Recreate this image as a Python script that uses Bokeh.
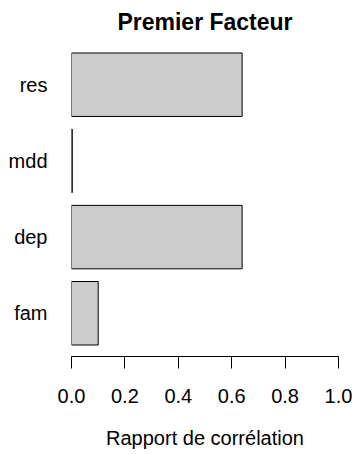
from bokeh.plotting import figure
from bokeh.models import ColumnDataSource, FactorRange, Range1d, FixedTicker
from bokeh.embed import file_html
from bokeh.resources import INLINE

# ---- data (bottom to top, as drawn) ----
categories = ["fam", "dep", "mdd", "res"]
values = [0.10, 0.639, 0.003, 0.639]
x_ticks = [0.0, 0.2, 0.4, 0.6, 0.8, 1.0]
x_tick_labels = ["0.0", "0.2", "0.4", "0.6", "0.8", "1.0"]
title_text = "Premier Facteur"
x_label = "Rapport de corrélation"

FONT = "Liberation Sans"

source = ColumnDataSource(dict(cat=categories, val=values))

p = figure(
    width=352, height=452,
    x_range=Range1d(0, 1),
    y_range=FactorRange(factors=categories, range_padding=0.0675,
                        range_padding_units="absolute"),
    output_backend="svg", toolbar_location=None,
    min_border_left=71, min_border_right=14,
    min_border_top=40, min_border_bottom=96,
)

p.hbar(y="cat", left=0, right="val", height=1 / 1.2, source=source,
       fill_color="#CCCCCC", line_color="black", line_width=1)

# title
p.title.text = title_text
p.title.align = "center"
p.title.text_font = FONT
p.title.text_font_size = "23px"
p.title.text_font_style = "bold"
p.title.text_color = "black"
p.title.standoff = 13

# x axis
xa = p.xaxis[0]
xa.ticker = FixedTicker(ticks=x_ticks)
xa.major_label_overrides = {t: l for t, l in zip(x_ticks, x_tick_labels)}
xa.bounds = (0, 1)
xa.minor_tick_line_color = None
xa.major_tick_out = 12
xa.major_tick_in = 0
xa.major_tick_line_color = "black"
xa.axis_line_color = "black"
xa.major_label_standoff = 20
xa.major_label_text_font = FONT
xa.major_label_text_font_size = "20px"
xa.major_label_text_color = "black"
xa.axis_label = x_label
xa.axis_label_text_font = FONT
xa.axis_label_text_font_size = "20px"
xa.axis_label_text_font_style = "normal"
xa.axis_label_text_color = "black"
xa.axis_label_standoff = 21

# y axis (category names)
ya = p.yaxis[0]
ya.axis_line_color = None
ya.major_tick_line_color = None
ya.minor_tick_line_color = None
ya.major_tick_out = 0
ya.major_tick_in = 0
ya.major_label_standoff = 24
ya.major_label_text_font = FONT
ya.major_label_text_font_size = "20px"
ya.major_label_text_color = "black"

p.xgrid.visible = False
p.ygrid.visible = False
p.outline_line_color = None
p.background_fill_color = "white"
p.border_fill_color = "white"

open("out.html", "w").write(file_html(p, INLINE))
